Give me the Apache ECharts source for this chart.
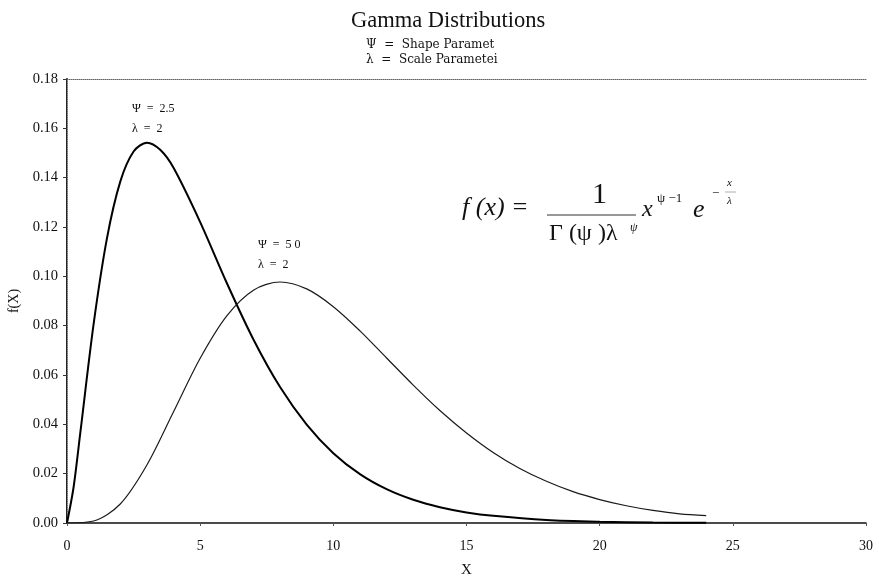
<!DOCTYPE html>
<html>
<head>
<meta charset="utf-8">
<title>Gamma Distributions</title>
<script src="https://cdn.jsdelivr.net/npm/echarts@6/dist/echarts.min.js"></script>
<style>
  html, body { margin: 0; padding: 0; background: #fff; }
  #chart { width: 879px; height: 579px; }
</style>
</head>
<body>
<div id="chart"></div>
<script>
// values
var xTicks = [0, 5, 10, 15, 20, 25, 30];
var yTicks = [0, 0.02, 0.04, 0.06, 0.08, 0.10, 0.12, 0.14, 0.16, 0.18];

// shape 2.5, scale 2
var xShape25 = [0, 0.25, 0.5, 1, 1.5, 2, 2.5, 3, 3.5, 4, 5, 6, 7, 8, 9, 10, 11, 12, 13, 14, 15, 16, 18, 20, 22, 24];
var fShape25 = [0, 0.0147, 0.0366, 0.0807, 0.1154, 0.1384, 0.1506, 0.1542, 0.1513, 0.1440, 0.1220, 0.0973,
  0.0744, 0.0551, 0.0399, 0.0283, 0.0198, 0.0137, 0.0094, 0.0064, 0.0043, 0.0029, 0.0012, 0.0005, 0.0002, 0.0001];

// shape 5.0, scale 2
var xShape50 = [0, 1, 2, 3, 4, 5, 6, 7, 8, 9, 10, 11, 12, 13, 14, 15, 16, 17, 18, 19, 20, 21, 22, 23, 24];
var fShape50 = [0, 0.0008, 0.0077, 0.0235, 0.0451, 0.0668, 0.0840, 0.0944, 0.0977, 0.0949, 0.0877, 0.0779,
  0.0669, 0.0559, 0.0456, 0.0365, 0.0286, 0.0221, 0.0169, 0.0127, 0.0095, 0.0070, 0.0051, 0.0037, 0.0030];

function pairs(xs, ys) {
  var out = [];
  for (var i = 0; i < xs.length; i++) {
    out.push([xs[i], ys[i]]);
  }
  return out;
}

var serif = '"Liberation Serif", "DejaVu Serif", serif';
var wideSerif = '"DejaVu Serif", serif';
var myChart = echarts.init(document.getElementById('chart'));

var option = {
  backgroundColor: '#fff',
  animation: false,
  title: {
    text: 'Gamma Distributions',
    left: 346,
    top: 5,
    textStyle: { fontFamily: serif, fontSize: 22.5, fontWeight: 'normal', color: '#111' }
  },
  grid: {
    left: 67,
    right: 13,
    top: 79,
    bottom: 56,
    containLabel: false,
    outerBoundsMode: 'none'
  },
  xAxis: [{
    type: 'value',
    min: 0,
    max: 30,
    interval: 5,
    name: 'X',
    nameLocation: 'middle',
    nameGap: 40,
    nameTextStyle: { fontFamily: serif, fontSize: 15, color: '#111' },
    axisLine: { lineStyle: { color: '#111', width: 1.5 } },
    axisTick: { show: true, length: 3, lineStyle: { color: '#555' } },
    axisLabel: { fontFamily: serif, fontSize: 14, color: '#111', margin: 16 },
    splitLine: { show: false }
  }, {
    type: 'value',
    position: 'top',
    min: 0,
    max: 30,
    axisLine: { show: true, onZero: false, lineStyle: { color: '#666', type: 'dotted', width: 1 } },
    axisTick: { show: false },
    axisLabel: { show: false },
    splitLine: { show: false }
  }],
  yAxis: [{
    type: 'value',
    min: 0,
    max: 0.18,
    interval: 0.02,
    name: 'f(X)',
    nameLocation: 'middle',
    nameGap: 43,
    nameTextStyle: { fontFamily: serif, fontSize: 14, color: '#111' },
    axisLine: { show: true, lineStyle: { color: '#222', width: 2 } },
    axisTick: { show: true, length: 4, lineStyle: { color: '#333' } },
    axisLabel: {
      fontFamily: serif, fontSize: 14.5, color: '#111', margin: 9,
      formatter: function (v) { return v.toFixed(2); }
    },
    splitLine: { show: false }
  }, {
    type: 'value',
    position: 'right',
    min: 0,
    max: 0.18,
    axisLine: { show: true, lineStyle: { color: '#999', type: 'dotted', width: 1 } },
    axisTick: { show: false },
    axisLabel: { show: false },
    splitLine: { show: false }
  }],
  series: [{
    name: 'shape 2.5',
    type: 'line',
    data: pairs(xShape25, fShape25),
    smooth: 0.3,
    symbol: 'none',
    lineStyle: { color: '#000', width: 2 }
  }, {
    name: 'shape 5.0',
    type: 'line',
    data: pairs(xShape50, fShape50),
    smooth: 0.3,
    symbol: 'none',
    lineStyle: { color: '#1a1a1a', width: 1.2 }
  }],
  graphic: [
    // subtitle lines
    { type: 'text', left: 366, top: 39, style: { text: 'Ψ  =  Shape Paramet', font: '12px ' + wideSerif, fill: '#111' } },
    { type: 'text', left: 366, top: 54, style: { text: 'λ  =  Scale Parametei', font: '12px ' + wideSerif, fill: '#111' } },
    // curve labels
    { type: 'text', left: 132, top: 99, style: { text: 'Ψ  =  2.5\nλ  =  2', font: '12px ' + serif, fill: '#111', lineHeight: 20 } },
    { type: 'text', left: 258, top: 235, style: { text: 'Ψ  =  5 0\nλ  =  2', font: '12px ' + serif, fill: '#111', lineHeight: 20 } },
    // formula
    { type: 'text', left: 462, top: 195, style: { text: 'f (x) =', font: 'italic 26px ' + serif, fill: '#111' } },
    { type: 'text', left: 592, top: 180, style: { text: '1', font: '30px ' + serif, fill: '#111' } },
    { type: 'line', shape: { x1: 547, y1: 215, x2: 636, y2: 215 }, style: { stroke: '#333', lineWidth: 1 } },
    { type: 'text', left: 549, top: 222, style: { text: 'Γ (ψ )λ', font: '24px ' + serif, fill: '#111' } },
    { type: 'text', left: 630, top: 222, style: { text: 'ψ', font: 'italic 12px ' + serif, fill: '#111' } },
    { type: 'text', left: 642, top: 198, style: { text: 'x', font: 'italic 24px ' + serif, fill: '#111' } },
    { type: 'text', left: 657, top: 192, style: { text: 'ψ −1', font: '13px ' + serif, fill: '#111' } },
    { type: 'text', left: 693, top: 197, style: { text: 'e', font: 'italic 26px ' + serif, fill: '#111' } },
    { type: 'text', left: 712, top: 187, style: { text: '−', font: '13px ' + serif, fill: '#111' } },
    { type: 'text', left: 727, top: 178, style: { text: 'x', font: 'italic 11px ' + serif, fill: '#111' } },
    { type: 'line', shape: { x1: 725, y1: 192, x2: 736, y2: 192 }, style: { stroke: '#777', lineWidth: 0.6 } },
    { type: 'text', left: 727, top: 196, style: { text: 'λ', font: 'italic 11px ' + serif, fill: '#111' } }
  ]
};

myChart.setOption(option);
window.addEventListener('resize', function () {
  myChart.resize();
});
</script>
</body>
</html>
